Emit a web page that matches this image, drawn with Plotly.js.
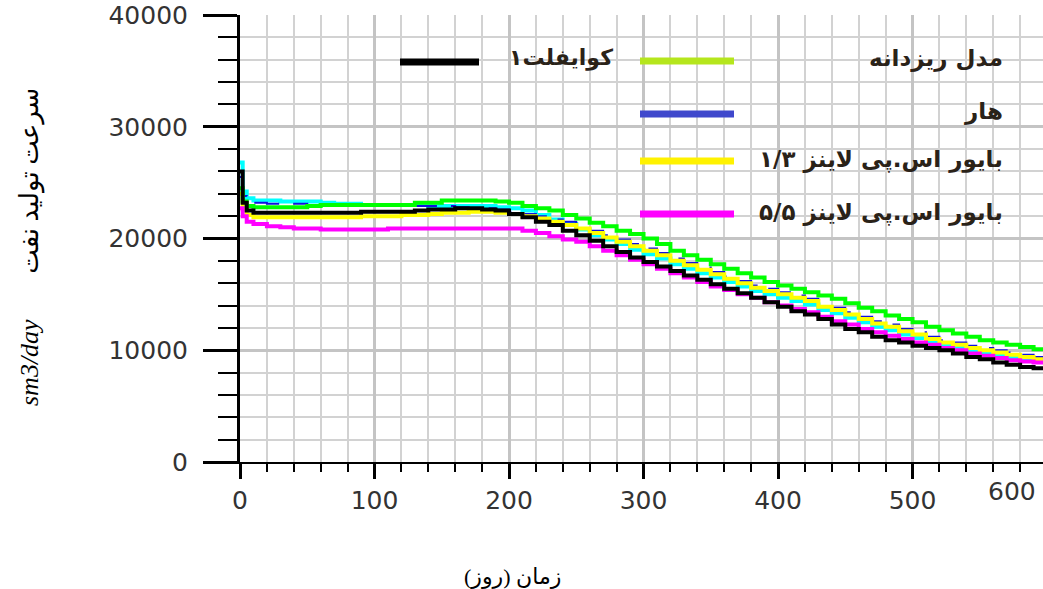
<!DOCTYPE html>
<html>
<head>
<meta charset="utf-8">
<script src="https://cdn.plot.ly/plotly-3.0.1.min.js"></script>
<style>html,body{margin:0;padding:0;background:#fff;}#chart{width:1043px;height:589px;}</style>
</head>
<body>
<div id="chart"></div>
<script>
// Days (x)
const days = [0,2,5,10,20,30,40,50,60,70,80,90,100,110,120,130,140,150,160,170,180,190,200,210,220,230,240,250,260,270,280,290,300,310,320,330,340,350,360,370,380,390,400,410,420,430,440,450,460,470,480,490,500,510,520,530,540,550,560,570,580,590,600];

// Oil production rate (sm3/day)
const quifilet1 = [26000,23200,22500,22300,22300,22300,22300,22300,22300,22300,22300,22400,22400,22400,22400,22500,22600,22600,22700,22700,22600,22500,22200,21900,21500,21200,20700,20300,19800,19300,18800,18300,17900,17500,17100,16700,16300,15900,15500,15100,14700,14300,13900,13500,13200,12800,12300,11900,11600,11200,10900,10700,10400,10200,10000,9700,9400,9200,8900,8700,8500,8400,8300];
const fineGrid = [24500,23300,22900,22800,22800,22800,22800,22900,23000,23000,23000,23000,23000,23000,23000,23200,23200,23400,23400,23400,23400,23300,23200,22900,22700,22500,22100,21800,21400,21100,20700,20400,20000,19500,18900,18500,18100,17700,17300,16900,16500,16100,15800,15500,15200,14900,14600,14200,13800,13500,13100,12800,12500,12100,11800,11500,11200,10900,10700,10500,10300,10100,10000];
const haar = [25500,23800,23300,23200,23100,23100,23100,23000,23000,23000,23000,22900,22900,22900,22900,22900,22900,22900,22800,22700,22700,22600,22400,22200,22000,21700,21500,21100,20700,20300,19900,19500,19100,18700,18200,17800,17400,17000,16600,16200,15800,15500,15200,14900,14600,14100,13800,13400,13000,12600,12300,11900,11600,11200,10900,10700,10400,10200,10000,9800,9600,9400,9300];
const spline13 = [24000,22600,22100,21900,21900,21900,21900,21900,21900,21900,21900,22000,22000,22000,22100,22100,22200,22300,22300,22400,22400,22300,22200,22000,21800,21500,21200,20900,20500,20100,19700,19300,18900,18500,18000,17600,17200,16800,16400,16000,15600,15300,15000,14700,14400,13900,13600,13200,12800,12400,12100,11700,11400,11000,10700,10500,10200,10000,9800,9600,9400,9200,9100];
const spline55 = [22700,22000,21500,21300,21100,21000,20900,20900,20800,20800,20800,20800,20800,20900,20900,20900,20900,20900,20900,20900,20900,20900,20900,20700,20500,20200,19900,19700,19300,18900,18500,18100,17700,17300,16900,16500,16100,15700,15400,15000,14700,14300,14000,13700,13400,13000,12600,12300,11900,11600,11300,11000,10700,10500,10200,10000,9700,9500,9300,9100,9000,8900,8800];
const unlabeled = [26800,24200,23600,23400,23400,23300,23300,23300,23200,23100,23100,23000,23000,23000,23000,23000,22900,22900,22900,22900,22900,22800,22700,22500,22100,21700,21300,20800,20300,19900,19500,19000,18600,18200,17700,17300,16900,16500,16100,15700,15300,15000,14700,14400,14100,13600,13300,12900,12500,12100,11800,11400,11100,10800,10500,10200,10000,9800,9600,9400,9200,9000,8900];

// Labels
const legendLabels = ['کوایفلت۱','مدل ریزدانه','هار','بایور اس.پی لاینز ۱/۳','بایور اس.پی لاینز ۵/۵'];
const xTitle = 'زمان (روز)\u200f';
const yTitleFa = 'سرعت تولید نفت';
const yTitleUnit = 'sm3/day';

function tr(y, color, width, dash) {
  return {x: days, y: y, type: 'scatter', mode: 'lines',
    line: {color: color, width: width, shape: 'hv', dash: dash || 'solid'},
    hoverinfo: 'skip', showlegend: false};
}
const data = [
  tr(unlabeled, '#00ffff', 4),
  tr(haar, '#1010e0', 2, '26px,14px'),
  tr(spline13, '#ffff00', 4),
  tr(fineGrid, '#00ff00', 4),
  tr(spline55, '#ff00ff', 4),
  tr(quifilet1, '#000000', 4)
];

const W = 803, H = 447, L = 240, B = 462;
const px = v => (v - L) / W;
const py = v => (B - v) / H;

function legLine(x0, x1, y, color) {
  return {type: 'line', xref: 'paper', yref: 'paper', x0: px(x0), x1: px(x1), y0: py(y), y1: py(y),
    line: {color: color, width: 7}};
}
function legText(txt, xr, y, size) {
  return {xref: 'paper', yref: 'paper', x: px(xr), y: py(y), xanchor: 'right', yanchor: 'middle',
    text: '<b>' + txt + '</b>', showarrow: false,
    font: {family: 'DejaVu Sans', size: size || 23, color: '#2a2218'}};
}

const tickFont = {family: 'DejaVu Sans', size: 25, color: '#333'};

const layout = {
  width: 1043, height: 589,
  margin: {l: 240, r: 0, t: 15, b: 127},
  paper_bgcolor: '#fff', plot_bgcolor: '#fff',
  showlegend: false,
  xaxis: {
    range: [0, 597], tick0: 0, dtick: 100, tickformat: 'd',
    showline: true, linecolor: '#000', linewidth: 2,
    ticks: 'outside', ticklen: 15, tickwidth: 3, tickcolor: '#000',
    showgrid: true, gridcolor: '#c4c4c4', gridwidth: 3, zeroline: false,
    tickfont: tickFont,
    minor: {dtick: 20, ticks: 'outside', ticklen: 8, tickwidth: 2, tickcolor: '#000',
      showgrid: true, gridcolor: '#d2d2d2', gridwidth: 2},
    fixedrange: true
  },
  yaxis: {
    range: [0, 40000], tick0: 0, dtick: 10000, tickformat: 'd',
    showline: true, linecolor: '#000', linewidth: 3,
    ticks: 'outside', ticklen: 34, tickwidth: 3, tickcolor: '#000',
    ticklabelstandoff: 10,
    showgrid: true, gridcolor: '#c4c4c4', gridwidth: 3, zeroline: false,
    tickfont: tickFont,
    minor: {dtick: 2000, ticks: 'outside', ticklen: 19, tickwidth: 2, tickcolor: '#000',
      showgrid: true, gridcolor: '#d2d2d2', gridwidth: 2},
    fixedrange: true
  },
  shapes: [
    legLine(400, 479, 62, '#000000'),
    legLine(640, 734, 61, '#b5e61d'),
    legLine(640, 734, 114, '#3f48cc'),
    legLine(640, 734, 161, '#fff200'),
    legLine(640, 734, 214, '#ff00ff')
  ],
  annotations: [
    legText(legendLabels[0], 615, 58, 22),
    legText(legendLabels[1], 1005, 58),
    legText(legendLabels[2], 1005, 112),
    legText(legendLabels[3], 1005, 159),
    legText(legendLabels[4], 1005, 212),
    {xref: 'paper', yref: 'paper', x: px(1012), y: py(491), xanchor: 'center', yanchor: 'middle',
      text: '600', showarrow: false, font: tickFont},
    {xref: 'paper', yref: 'paper', x: px(512), y: py(576), xanchor: 'center', yanchor: 'middle',
      text: xTitle, showarrow: false, font: {family: 'Liberation Serif, DejaVu Sans', size: 22, color: '#000'}},
    {xref: 'paper', yref: 'paper', x: px(30), y: py(247), xanchor: 'center', yanchor: 'middle',
      textangle: -90, showarrow: false,
      text: '<i>' + yTitleUnit + '</i>' + '\u00a0\u00a0\u00a0\u00a0\u00a0\u00a0\u00a0' + yTitleFa,
      font: {family: 'Liberation Serif, DejaVu Sans', size: 26, color: '#000'}}
  ]
};

Plotly.newPlot('chart', data, layout, {staticPlot: true, displayModeBar: false});
</script>
</body>
</html>
